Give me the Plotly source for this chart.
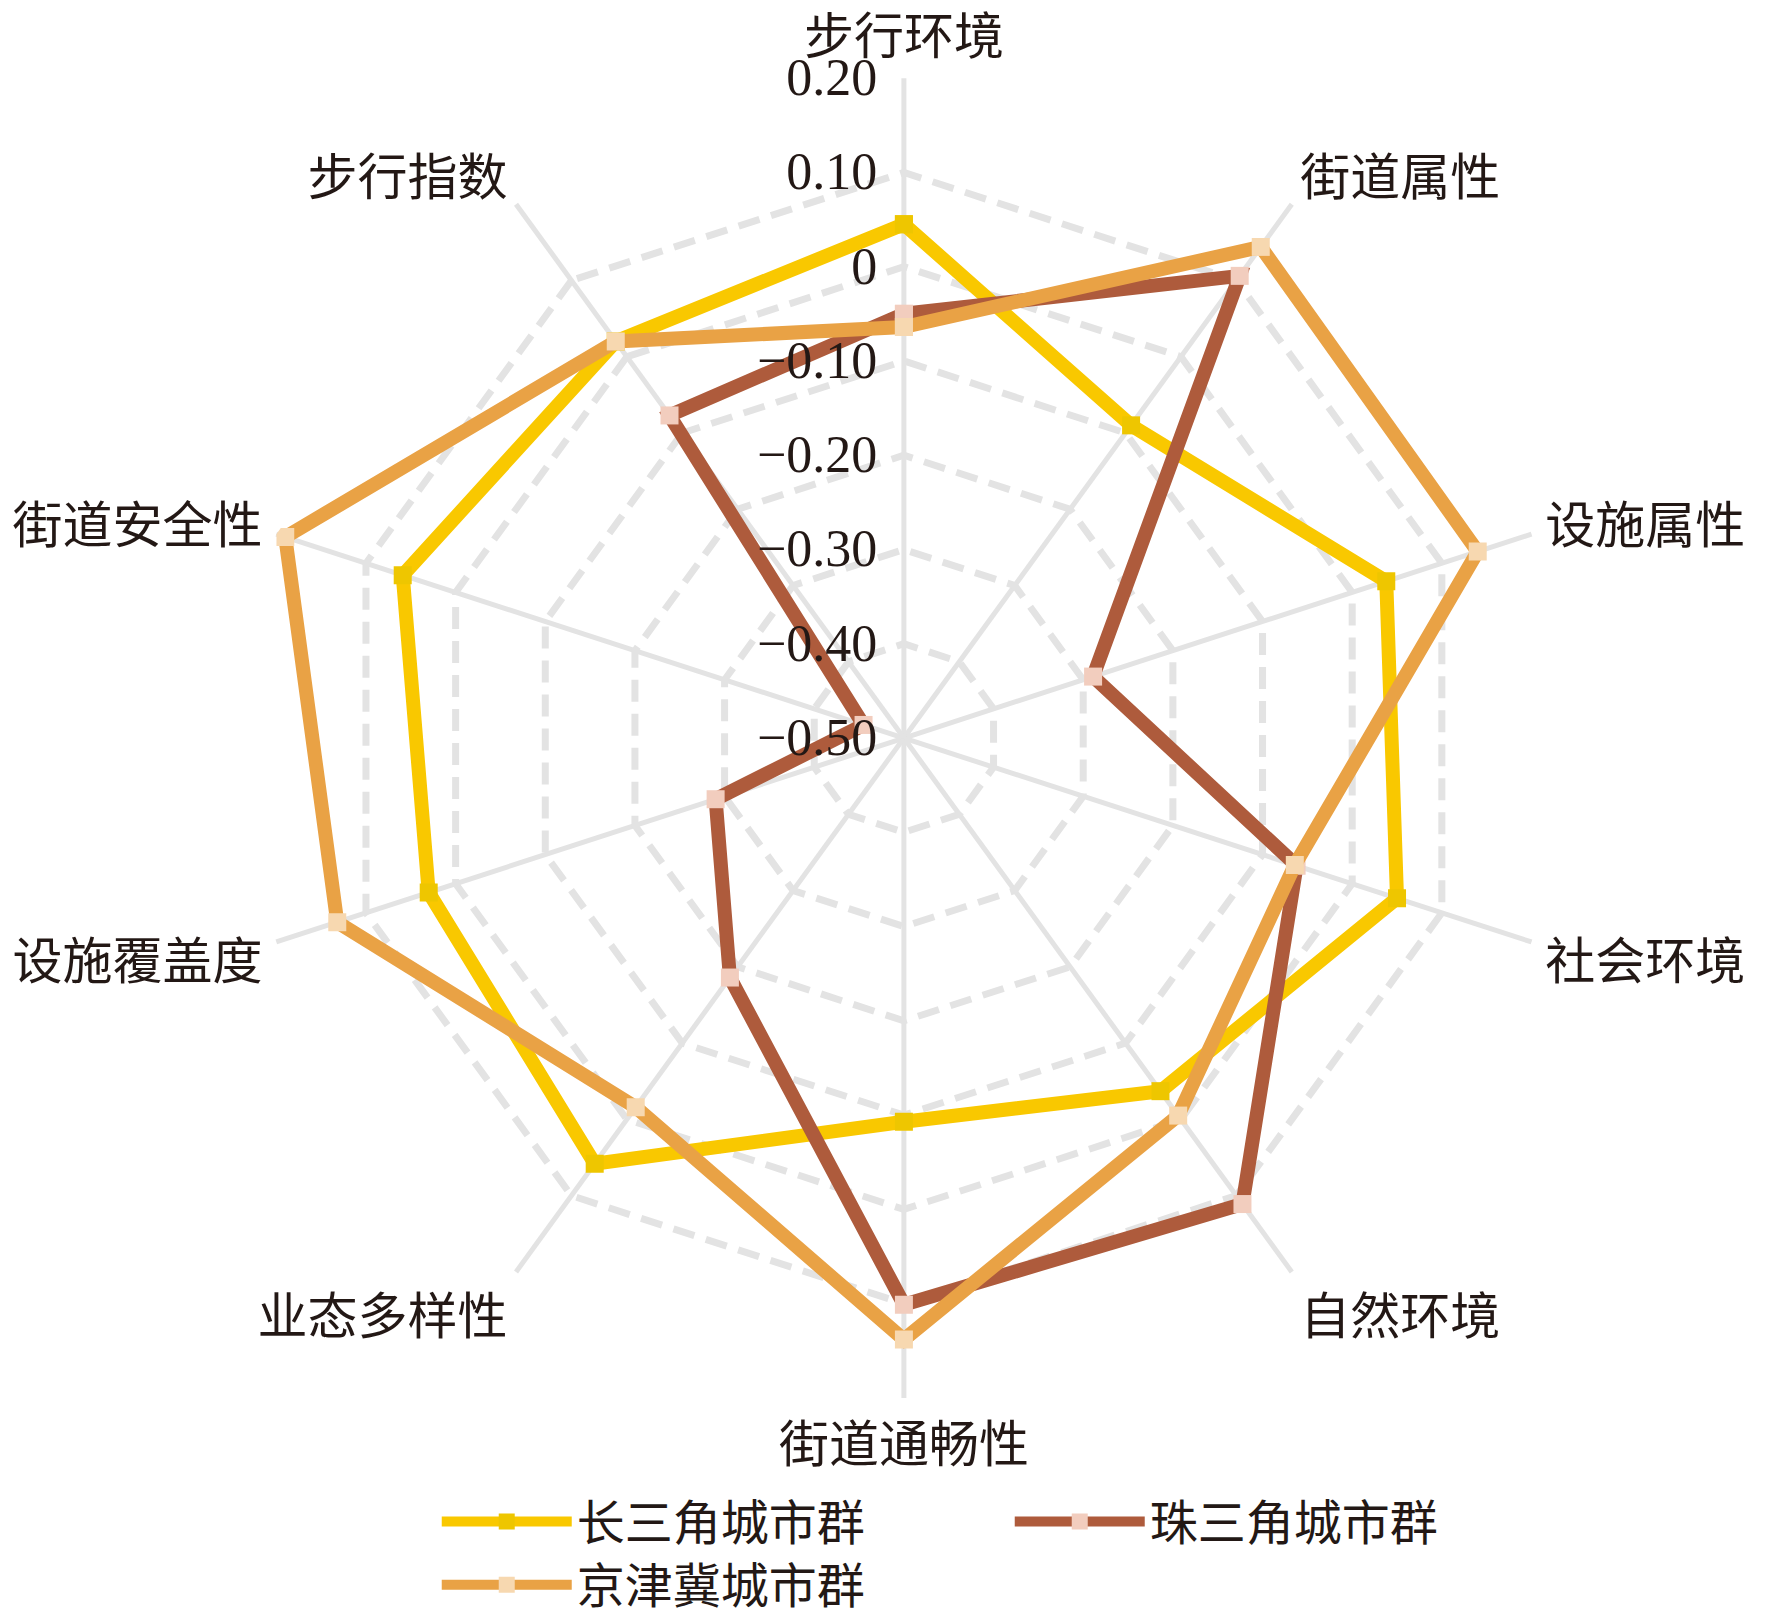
import plotly.graph_objects as go

# categories (clockwise from top) and mean values per city cluster
categories = ['步行环境', '街道属性', '设施属性', '社会环境', '自然环境',
              '街道通畅性', '业态多样性', '设施覆盖度', '街道安全性', '步行指数']
yrd = [0.045, -0.090, 0.038, 0.050, -0.037, -0.093, 0.058, 0.030, 0.059, 0.020]    # 长三角
prd = [-0.050, 0.106, -0.289, -0.062, 0.111, 0.101, -0.186, -0.290, -0.455, -0.077]  # 珠三角
jjj = [-0.064, 0.144, 0.140, -0.064, -0.005, 0.138, -0.016, 0.132, 0.190, 0.020]   # 京津冀

tick_vals = [-0.5, -0.4, -0.3, -0.2, -0.1, 0, 0.1, 0.2]
tick_text = ['−0.50', '−0.40', '−0.30', '−0.20', '−0.10', '0', '0.10', '0.20']

# name, values, line colour, marker colour, legend row
series = [
    ('长三角城市群', yrd, '#F9C800', '#EEC600', 'legend'),
    ('珠三角城市群', prd, '#AE5B3C', '#F2CDBE', 'legend'),
    ('京津冀城市群', jjj, '#E9A245', '#F7D8B0', 'legend2'),
]

text_col = '#231815'
grid_col = '#E3E3E3'
legend_font = dict(family='Noto Sans CJK SC', size=48, color=text_col)

fig = go.Figure()
for name, vals, col, mcol, leg in series:
    fig.add_trace(go.Scatterpolar(
        r=vals + vals[:1],
        theta=categories + categories[:1],
        name=name,
        legend=leg,
        mode='lines+markers',
        # scatterpolar defaults to cliponaxis=False, whose point test hides
        # every marker when the radial range starts below zero
        cliponaxis=True,
        line=dict(color=col, width=14),
        marker=dict(color=mcol, size=18, symbol='square'),
    ))

fig.update_layout(
    width=1779, height=1620,
    margin=dict(l=0, r=0, t=0, b=0, autoexpand=False),
    paper_bgcolor='white',
    polar=dict(
        domain=dict(x=[0.1326, 0.8746], y=[0.142, 0.9567]),
        bgcolor='white',
        gridshape='linear',
        radialaxis=dict(
            range=[-0.5, 0.2],
            angle=90,
            tickangle=90,
            side='counterclockwise',
            tickvals=tick_vals,
            ticktext=tick_text,
            showline=False,
            ticks='outside',
            ticklen=8,
            tickcolor='rgba(0,0,0,0)',
            gridcolor=grid_col,
            gridwidth=7,
            griddash='22px,12px',
            tickfont=dict(family='Liberation Serif', size=52, color=text_col),
        ),
        angularaxis=dict(
            direction='clockwise',
            rotation=90,
            showline=False,
            ticks='outside',
            ticklen=4,
            tickcolor='rgba(0,0,0,0)',
            gridcolor=grid_col,
            gridwidth=5,
            tickfont=dict(family='Noto Sans CJK SC', size=50, color=text_col),
        ),
    ),
    legend=dict(
        orientation='h',
        x=0.241, y=0.089, xanchor='left', yanchor='top',
        entrywidth=428, entrywidthmode='pixels',
        itemwidth=130,
        font=legend_font,
    ),
    legend2=dict(
        orientation='h',
        x=0.241, y=0.050, xanchor='left', yanchor='top',
        itemwidth=130,
        font=legend_font,
    ),
)

fig.write_html('out.html')
